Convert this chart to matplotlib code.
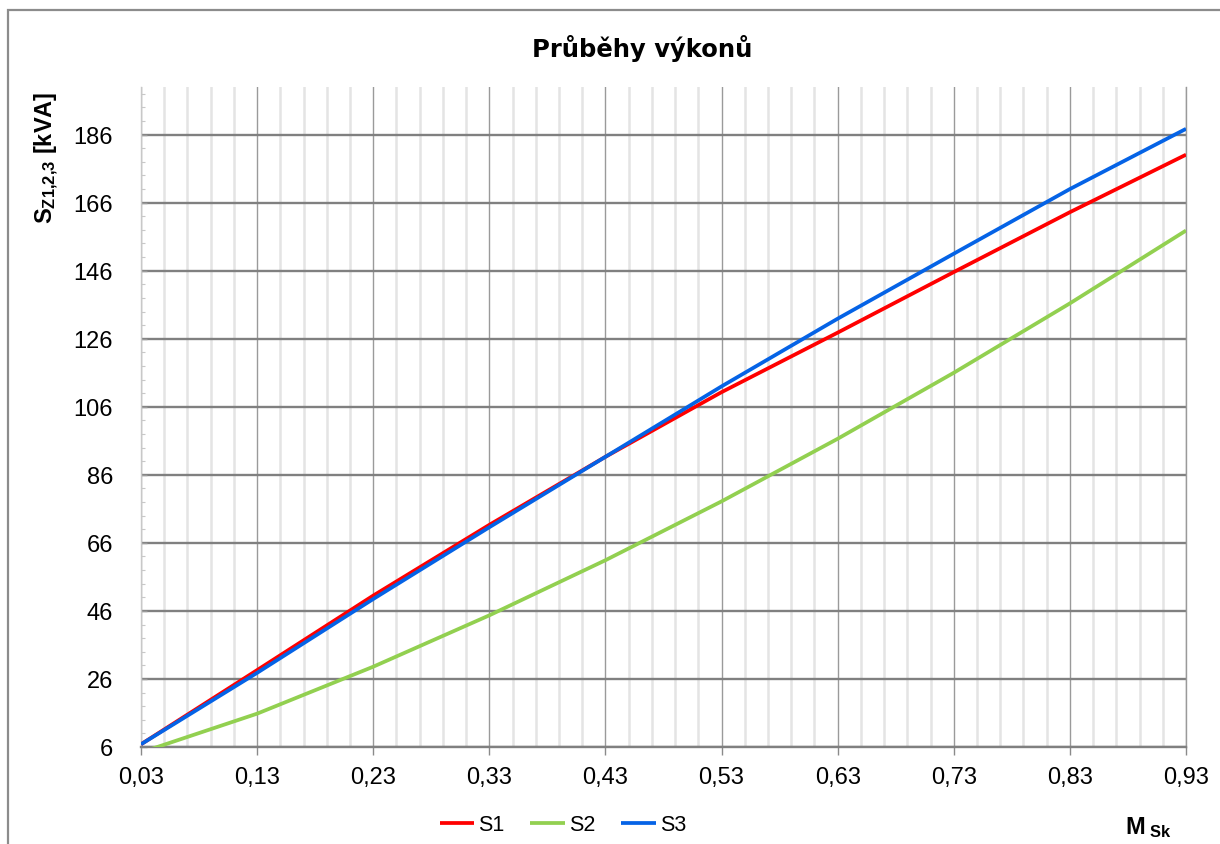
import numpy as np
import matplotlib
matplotlib.use("Agg")
import matplotlib.pyplot as plt
from matplotlib.ticker import FixedLocator, FixedFormatter
from matplotlib.patches import Rectangle

plt.rcParams['font.family'] = ['Liberation Sans', 'DejaVu Sans']
plt.rcParams['mathtext.fontset'] = 'custom'
plt.rcParams['mathtext.rm'] = 'Liberation Sans'
plt.rcParams['mathtext.bf'] = 'Liberation Sans:bold'
plt.rcParams['mathtext.it'] = 'Liberation Sans:italic'

# ---- data ----
m_sk = [0.03, 0.13, 0.23, 0.33, 0.43, 0.53, 0.63, 0.73, 0.83, 0.93]
s1 = [6.8, 28.6, 50.5, 71.3, 91.3, 110.3, 127.8, 145.6, 163.2, 180.1]
s2 = [4.4, 15.8, 29.6, 44.7, 60.9, 78.2, 96.6, 116.0, 136.4, 157.8]
s3 = [6.8, 27.8, 49.5, 70.6, 91.3, 112.0, 131.9, 151.0, 170.0, 187.7]
series_names = ["S1", "S2", "S3"]
series_colors = ["#FF0000", "#92D050", "#0563E6"]

x_ticks = [0.03, 0.13, 0.23, 0.33, 0.43, 0.53, 0.63, 0.73, 0.83, 0.93]
x_tick_labels = ["0,03", "0,13", "0,23", "0,33", "0,43", "0,53", "0,63", "0,73", "0,83", "0,93"]
y_ticks = [6, 26, 46, 66, 86, 106, 126, 146, 166, 186]
y_tick_labels = ["6", "26", "46", "66", "86", "106", "126", "146", "166", "186"]

title = "Průběhy výkonů"

W, H = 1220, 845
fig = plt.figure(figsize=(W / 100, H / 100), dpi=100)
fig.patch.set_facecolor("white")

# outer chart border
fig.patches.append(Rectangle((8 / W, 0 - 0.05), 1.2, 1 - 11 / H + 0.05,
                             transform=fig.transFigure, fill=False,
                             edgecolor="#8c8c8c", linewidth=1.6, zorder=0))

ax = fig.add_axes([141 / W, 1 - 748 / H, (1186 - 141) / W, (748 - 88) / H])

for ys, name, col in zip([s1, s2, s3], series_names, series_colors):
    ax.plot(m_sk, ys, color=col, lw=2.7, label=name, solid_capstyle="butt",
            solid_joinstyle="round", zorder=3)

ax.set_xlim(0.03, 0.93)
ax.set_ylim(6, 200)

ax.xaxis.set_major_locator(FixedLocator(x_ticks))
ax.xaxis.set_major_formatter(FixedFormatter(x_tick_labels))
ax.xaxis.set_minor_locator(FixedLocator(np.arange(0.03, 0.9301, 0.02)))
ax.yaxis.set_major_locator(FixedLocator(y_ticks))
ax.yaxis.set_major_formatter(FixedFormatter(y_tick_labels))
ax.yaxis.set_minor_locator(FixedLocator(np.arange(6, 200.1, 4)))

ax.grid(which="minor", axis="x", color="#e4e4e4", lw=1.8, zorder=0)
ax.grid(which="major", axis="x", color="#9a9a9a", lw=1.0, zorder=1)
ax.grid(which="major", axis="y", color="#808080", lw=1.7, zorder=1)
ax.set_axisbelow(True)

ax.tick_params(axis="x", which="major", direction="out", length=6, width=1,
               color="#8a8a8a", pad=8, labelsize=17)
ax.tick_params(axis="x", which="minor", length=0)
ax.tick_params(axis="y", which="major", direction="in", length=4, width=1,
               color="#9a9a9a", pad=20, labelsize=17)
ax.tick_params(axis="y", which="minor", direction="in", length=3, width=0.8,
               color="#c8c8c8")

ax.spines["top"].set_visible(False)
ax.spines["right"].set_color("#9a9a9a")
ax.spines["right"].set_linewidth(1.0)
ax.spines["bottom"].set_color("#808080")
ax.spines["bottom"].set_linewidth(1.7)
ax.spines["left"].set_color("#c8c8c8")
ax.spines["left"].set_linewidth(1.0)
ax.spines["left"].set_linestyle((0, (2, 1)))

fig.text(642 / W, 1 - 48 / H, title, ha="center", va="center",
         fontsize=17.5, fontweight="bold", family="DejaVu Sans")

fig.text(47 / W, 1 - 158 / H, r"$\mathbf{S_{Z1{,}2{,}3}}$ [kVA]", rotation=90,
         ha="center", va="center", fontsize=17, fontweight="bold")

fig.text(1148 / W, 1 - 828 / H, r"$\mathbf{M_{\ Sk}}$", ha="center", va="center",
         fontsize=17, fontweight="bold")

handles, labels = ax.get_legend_handles_labels()
fig.legend(handles, labels, loc="center", bbox_to_anchor=(563 / W, 1 - 826 / H),
           ncol=3, frameon=False, fontsize=15.5, handlelength=1.6,
           handletextpad=0.2, columnspacing=1.2, borderpad=0)

fig.savefig("out.png", dpi=100, facecolor="white")
